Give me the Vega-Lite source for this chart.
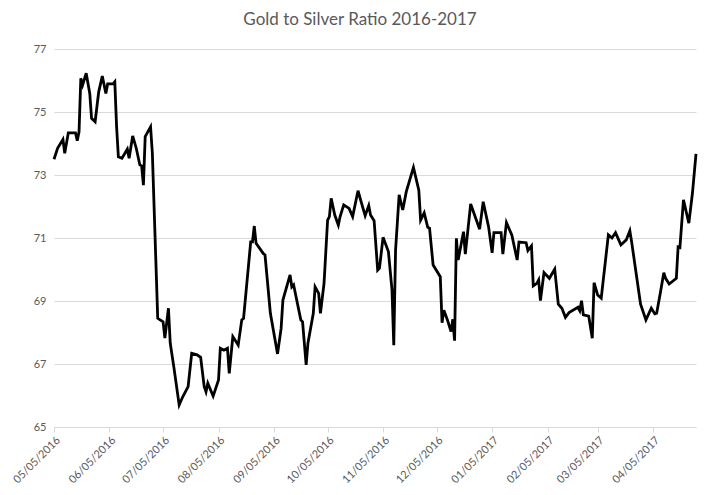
{
  "$schema": "https://vega.github.io/schema/vega-lite/v6.json",
  "width": 642,
  "height": 378,
  "autosize": {"type": "none"},
  "padding": {"left": 54, "top": 49, "right": 25, "bottom": 68},
  "background": "white",
  "title": {"text": "Gold to Silver Ratio 2016-2017", "dx": -15},
  "data": {
    "values": [
      {"date": "2016-05-05", "ratio": 73.50},
      {"date": "2016-05-07", "ratio": 73.85},
      {"date": "2016-05-10", "ratio": 74.13},
      {"date": "2016-05-11", "ratio": 73.69},
      {"date": "2016-05-13", "ratio": 74.34},
      {"date": "2016-05-17", "ratio": 74.34},
      {"date": "2016-05-18", "ratio": 74.09},
      {"date": "2016-05-19", "ratio": 74.37},
      {"date": "2016-05-20", "ratio": 76.07},
      {"date": "2016-05-21", "ratio": 75.86},
      {"date": "2016-05-23", "ratio": 76.23},
      {"date": "2016-05-25", "ratio": 75.59},
      {"date": "2016-05-26", "ratio": 74.80},
      {"date": "2016-05-28", "ratio": 74.69},
      {"date": "2016-05-30", "ratio": 75.64},
      {"date": "2016-06-01", "ratio": 76.14},
      {"date": "2016-06-03", "ratio": 75.59},
      {"date": "2016-06-04", "ratio": 75.89},
      {"date": "2016-06-07", "ratio": 75.89},
      {"date": "2016-06-08", "ratio": 75.96},
      {"date": "2016-06-09", "ratio": 74.53},
      {"date": "2016-06-10", "ratio": 73.58},
      {"date": "2016-06-12", "ratio": 73.53},
      {"date": "2016-06-15", "ratio": 73.82},
      {"date": "2016-06-16", "ratio": 73.53},
      {"date": "2016-06-18", "ratio": 74.24},
      {"date": "2016-06-20", "ratio": 73.85},
      {"date": "2016-06-22", "ratio": 73.32},
      {"date": "2016-06-23", "ratio": 73.29},
      {"date": "2016-06-24", "ratio": 72.68},
      {"date": "2016-06-25", "ratio": 74.22},
      {"date": "2016-06-28", "ratio": 74.53},
      {"date": "2016-06-29", "ratio": 73.69},
      {"date": "2016-07-02", "ratio": 68.45},
      {"date": "2016-07-05", "ratio": 68.34},
      {"date": "2016-07-06", "ratio": 67.82},
      {"date": "2016-07-08", "ratio": 68.77},
      {"date": "2016-07-09", "ratio": 67.66},
      {"date": "2016-07-11", "ratio": 66.91},
      {"date": "2016-07-14", "ratio": 65.70},
      {"date": "2016-07-16", "ratio": 65.96},
      {"date": "2016-07-19", "ratio": 66.28},
      {"date": "2016-07-21", "ratio": 67.34},
      {"date": "2016-07-24", "ratio": 67.29},
      {"date": "2016-07-26", "ratio": 67.21},
      {"date": "2016-07-28", "ratio": 66.28},
      {"date": "2016-07-29", "ratio": 66.12},
      {"date": "2016-07-30", "ratio": 66.39},
      {"date": "2016-08-02", "ratio": 65.98},
      {"date": "2016-08-05", "ratio": 66.49},
      {"date": "2016-08-06", "ratio": 67.50},
      {"date": "2016-08-08", "ratio": 67.44},
      {"date": "2016-08-10", "ratio": 67.50},
      {"date": "2016-08-11", "ratio": 66.70},
      {"date": "2016-08-13", "ratio": 67.87},
      {"date": "2016-08-16", "ratio": 67.60},
      {"date": "2016-08-18", "ratio": 68.40},
      {"date": "2016-08-19", "ratio": 68.45},
      {"date": "2016-08-23", "ratio": 70.88},
      {"date": "2016-08-24", "ratio": 70.88},
      {"date": "2016-08-25", "ratio": 71.38},
      {"date": "2016-08-26", "ratio": 70.83},
      {"date": "2016-08-30", "ratio": 70.51},
      {"date": "2016-08-31", "ratio": 70.46},
      {"date": "2016-09-03", "ratio": 68.61},
      {"date": "2016-09-07", "ratio": 67.32},
      {"date": "2016-09-09", "ratio": 68.13},
      {"date": "2016-09-10", "ratio": 69.03},
      {"date": "2016-09-14", "ratio": 69.83},
      {"date": "2016-09-15", "ratio": 69.45},
      {"date": "2016-09-16", "ratio": 69.51},
      {"date": "2016-09-20", "ratio": 68.40},
      {"date": "2016-09-21", "ratio": 68.34},
      {"date": "2016-09-23", "ratio": 66.97},
      {"date": "2016-09-24", "ratio": 67.66},
      {"date": "2016-09-27", "ratio": 68.61},
      {"date": "2016-09-28", "ratio": 69.45},
      {"date": "2016-09-30", "ratio": 69.24},
      {"date": "2016-10-01", "ratio": 68.61},
      {"date": "2016-10-03", "ratio": 69.56},
      {"date": "2016-10-05", "ratio": 71.57},
      {"date": "2016-10-06", "ratio": 71.68},
      {"date": "2016-10-07", "ratio": 72.26},
      {"date": "2016-10-09", "ratio": 71.73},
      {"date": "2016-10-11", "ratio": 71.41},
      {"date": "2016-10-12", "ratio": 71.68},
      {"date": "2016-10-14", "ratio": 72.05},
      {"date": "2016-10-17", "ratio": 71.94},
      {"date": "2016-10-19", "ratio": 71.68},
      {"date": "2016-10-22", "ratio": 72.50},
      {"date": "2016-10-24", "ratio": 72.10},
      {"date": "2016-10-26", "ratio": 71.71},
      {"date": "2016-10-28", "ratio": 72.03},
      {"date": "2016-10-29", "ratio": 71.73},
      {"date": "2016-10-31", "ratio": 71.55},
      {"date": "2016-11-02", "ratio": 69.98},
      {"date": "2016-11-03", "ratio": 70.04},
      {"date": "2016-11-05", "ratio": 71.02},
      {"date": "2016-11-08", "ratio": 70.57},
      {"date": "2016-11-10", "ratio": 69.35},
      {"date": "2016-11-11", "ratio": 67.60},
      {"date": "2016-11-12", "ratio": 70.62},
      {"date": "2016-11-14", "ratio": 72.37},
      {"date": "2016-11-16", "ratio": 71.89},
      {"date": "2016-11-18", "ratio": 72.47},
      {"date": "2016-11-22", "ratio": 73.24},
      {"date": "2016-11-25", "ratio": 72.52},
      {"date": "2016-11-26", "ratio": 71.57},
      {"date": "2016-11-28", "ratio": 71.80},
      {"date": "2016-11-30", "ratio": 71.34},
      {"date": "2016-12-01", "ratio": 71.31},
      {"date": "2016-12-03", "ratio": 70.14},
      {"date": "2016-12-07", "ratio": 69.77},
      {"date": "2016-12-08", "ratio": 68.31},
      {"date": "2016-12-09", "ratio": 68.71},
      {"date": "2016-12-11", "ratio": 68.40},
      {"date": "2016-12-13", "ratio": 68.03},
      {"date": "2016-12-14", "ratio": 68.42},
      {"date": "2016-12-15", "ratio": 67.74},
      {"date": "2016-12-16", "ratio": 70.99},
      {"date": "2016-12-17", "ratio": 70.30},
      {"date": "2016-12-20", "ratio": 71.20},
      {"date": "2016-12-21", "ratio": 70.49},
      {"date": "2016-12-24", "ratio": 72.08},
      {"date": "2016-12-29", "ratio": 71.28},
      {"date": "2016-12-31", "ratio": 72.15},
      {"date": "2017-01-03", "ratio": 71.36},
      {"date": "2017-01-05", "ratio": 70.53},
      {"date": "2017-01-06", "ratio": 71.17},
      {"date": "2017-01-10", "ratio": 71.17},
      {"date": "2017-01-11", "ratio": 70.49},
      {"date": "2017-01-13", "ratio": 71.49},
      {"date": "2017-01-16", "ratio": 71.10},
      {"date": "2017-01-19", "ratio": 70.30},
      {"date": "2017-01-20", "ratio": 70.87},
      {"date": "2017-01-24", "ratio": 70.85},
      {"date": "2017-01-25", "ratio": 70.60},
      {"date": "2017-01-27", "ratio": 70.75},
      {"date": "2017-01-28", "ratio": 69.48},
      {"date": "2017-01-30", "ratio": 69.56},
      {"date": "2017-01-31", "ratio": 69.67},
      {"date": "2017-02-01", "ratio": 69.01},
      {"date": "2017-02-03", "ratio": 69.90},
      {"date": "2017-02-06", "ratio": 69.72},
      {"date": "2017-02-09", "ratio": 70.01},
      {"date": "2017-02-11", "ratio": 68.90},
      {"date": "2017-02-13", "ratio": 68.77},
      {"date": "2017-02-15", "ratio": 68.48},
      {"date": "2017-02-17", "ratio": 68.63},
      {"date": "2017-02-22", "ratio": 68.80},
      {"date": "2017-02-23", "ratio": 68.69},
      {"date": "2017-02-24", "ratio": 69.01},
      {"date": "2017-02-25", "ratio": 68.56},
      {"date": "2017-02-28", "ratio": 68.52},
      {"date": "2017-03-02", "ratio": 67.82},
      {"date": "2017-03-03", "ratio": 69.58},
      {"date": "2017-03-05", "ratio": 69.19},
      {"date": "2017-03-07", "ratio": 69.09},
      {"date": "2017-03-11", "ratio": 71.10},
      {"date": "2017-03-13", "ratio": 71.00},
      {"date": "2017-03-15", "ratio": 71.17},
      {"date": "2017-03-18", "ratio": 70.78},
      {"date": "2017-03-21", "ratio": 70.94},
      {"date": "2017-03-23", "ratio": 71.23},
      {"date": "2017-03-24", "ratio": 70.88},
      {"date": "2017-03-29", "ratio": 68.90},
      {"date": "2017-04-01", "ratio": 68.40},
      {"date": "2017-04-04", "ratio": 68.77},
      {"date": "2017-04-06", "ratio": 68.59},
      {"date": "2017-04-07", "ratio": 68.61},
      {"date": "2017-04-09", "ratio": 69.24},
      {"date": "2017-04-11", "ratio": 69.90},
      {"date": "2017-04-12", "ratio": 69.72},
      {"date": "2017-04-14", "ratio": 69.54},
      {"date": "2017-04-18", "ratio": 69.72},
      {"date": "2017-04-19", "ratio": 70.72},
      {"date": "2017-04-20", "ratio": 70.70},
      {"date": "2017-04-22", "ratio": 72.21},
      {"date": "2017-04-25", "ratio": 71.47},
      {"date": "2017-04-27", "ratio": 72.42},
      {"date": "2017-04-29", "ratio": 73.67}
    ]
  },
  "mark": {"type": "line", "color": "black", "strokeWidth": 2.8, "strokeJoin": "miter"},
  "encoding": {
    "x": {
      "field": "date",
      "type": "temporal",
      "title": null,
      "scale": {"nice": false},
      "axis": {
        "values": [
          {"year": 2016, "month": 5, "date": 5},
          {"year": 2016, "month": 6, "date": 5},
          {"year": 2016, "month": 7, "date": 5},
          {"year": 2016, "month": 8, "date": 5},
          {"year": 2016, "month": 9, "date": 5},
          {"year": 2016, "month": 10, "date": 5},
          {"year": 2016, "month": 11, "date": 5},
          {"year": 2016, "month": 12, "date": 5},
          {"year": 2017, "month": 1, "date": 5},
          {"year": 2017, "month": 2, "date": 5},
          {"year": 2017, "month": 3, "date": 5},
          {"year": 2017, "month": 4, "date": 5}
        ],
        "format": "%m/%d/%Y",
        "labelAngle": -45,
        "labelOverlap": false,
        "labelBound": false,
        "labelFlush": false,
        "grid": false,
        "domainColor": "#d9d9d9",
        "tickColor": "#d9d9d9",
        "tickSize": 5,
        "labelPadding": 2
      }
    },
    "y": {
      "field": "ratio",
      "type": "quantitative",
      "title": null,
      "scale": {"domain": [65, 77], "nice": false, "zero": false},
      "axis": {
        "values": [65, 67, 69, 71, 73, 75, 77],
        "domain": false,
        "ticks": false,
        "gridColor": "#d9d9d9",
        "labelPadding": 8
      }
    }
  },
  "config": {
    "view": {"stroke": null},
    "font": "Lato",
    "axis": {"labelFont": "Lato", "labelFontSize": 11, "labelColor": "#595959"},
    "title": {"font": "Lato", "fontSize": 17, "fontWeight": "normal", "color": "#595959", "offset": 14}
  }
}
